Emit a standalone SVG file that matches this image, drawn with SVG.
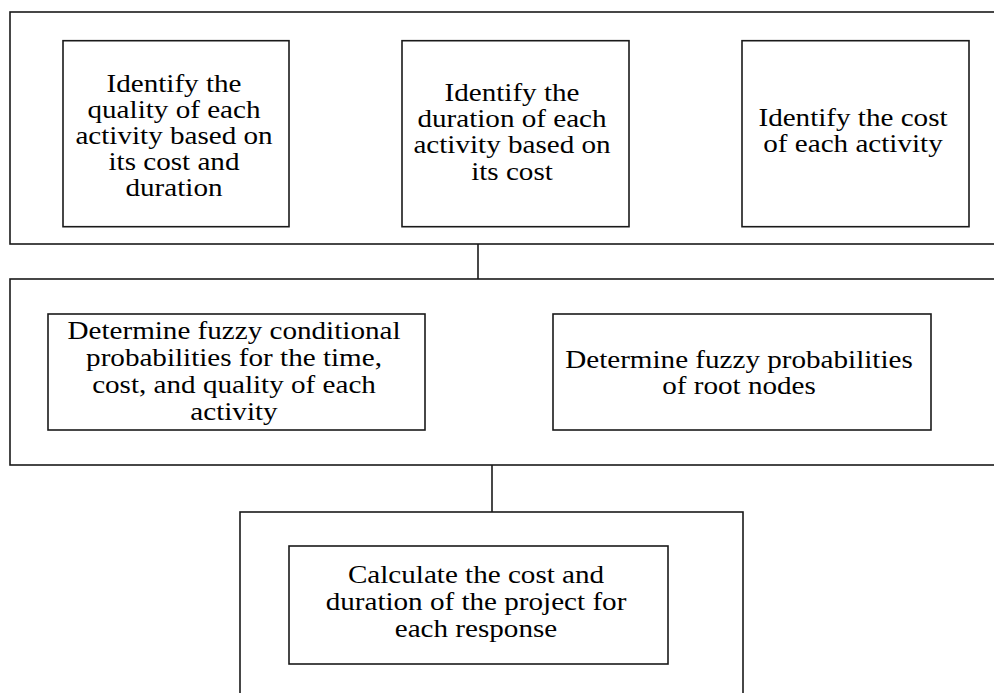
<svg xmlns="http://www.w3.org/2000/svg" width="994" height="693" viewBox="0 0 994 693">
<style>
.box{fill:none;stroke:#1a1a1a;stroke-width:1.6}
.inner{fill:#fff;stroke:#1a1a1a;stroke-width:1.6}
.conn{fill:none;stroke:#1a1a1a;stroke-width:1.6}
text{font-family:"Liberation Serif","Times New Roman",serif;font-size:25px;fill:#000;text-anchor:middle}
</style>
<rect width="994" height="693" fill="#fff"/>
<g id="connectors">
<line class="conn" x1="478" y1="244" x2="478" y2="279"/>
<line class="conn" x1="492" y1="465" x2="492" y2="512"/>
</g>
<g id="stage1">
<rect class="box" x="10" y="12" width="1000" height="232"/>
</g>
<g id="n1">
<rect class="inner" x="63" y="40.7" width="226" height="186"/>
<g transform="translate(174 0) scale(1.165 1)">
<text x="0" y="91.7">Identify the</text>
<text x="0" y="117.7">quality of each</text>
<text x="0" y="143.7">activity based on</text>
<text x="0" y="169.7">its cost and</text>
<text x="0" y="195.7">duration</text>
</g>
</g>
<g id="n2">
<rect class="inner" x="402" y="40.7" width="227" height="186"/>
<g transform="translate(512 0) scale(1.165 1)">
<text x="0" y="101">Identify the</text>
<text x="0" y="127">duration of each</text>
<text x="0" y="153.5">activity based on</text>
<text x="0" y="180">its cost</text>
</g>
</g>
<g id="n3">
<rect class="inner" x="742" y="40.7" width="227" height="186"/>
<g transform="translate(853 0) scale(1.165 1)">
<text x="0" y="126">Identify the cost</text>
<text x="0" y="152">of each activity</text>
</g>
</g>
<g id="stage2">
<rect class="box" x="10" y="279" width="1000" height="186"/>
</g>
<g id="n4">
<rect class="inner" x="48" y="314" width="377" height="116"/>
<g transform="translate(234 0) scale(1.165 1)">
<text x="0" y="339">Determine fuzzy conditional</text>
<text x="0" y="366">probabilities for the time,</text>
<text x="0" y="393">cost, and quality of each</text>
<text x="0" y="420">activity</text>
</g>
</g>
<g id="n5">
<rect class="inner" x="553" y="314" width="378" height="116"/>
<g transform="translate(739 0) scale(1.165 1)">
<text x="0" y="368">Determine fuzzy probabilities</text>
<text x="0" y="394">of root nodes</text>
</g>
</g>
<g id="stage3">
<rect class="box" x="240" y="512" width="503" height="200"/>
</g>
<g id="n6">
<rect class="inner" x="289" y="546" width="379" height="118"/>
<g transform="translate(476 0) scale(1.165 1)">
<text x="0" y="583">Calculate the cost and</text>
<text x="0" y="610">duration of the project for</text>
<text x="0" y="637">each response</text>
</g>
</g>
</svg>
